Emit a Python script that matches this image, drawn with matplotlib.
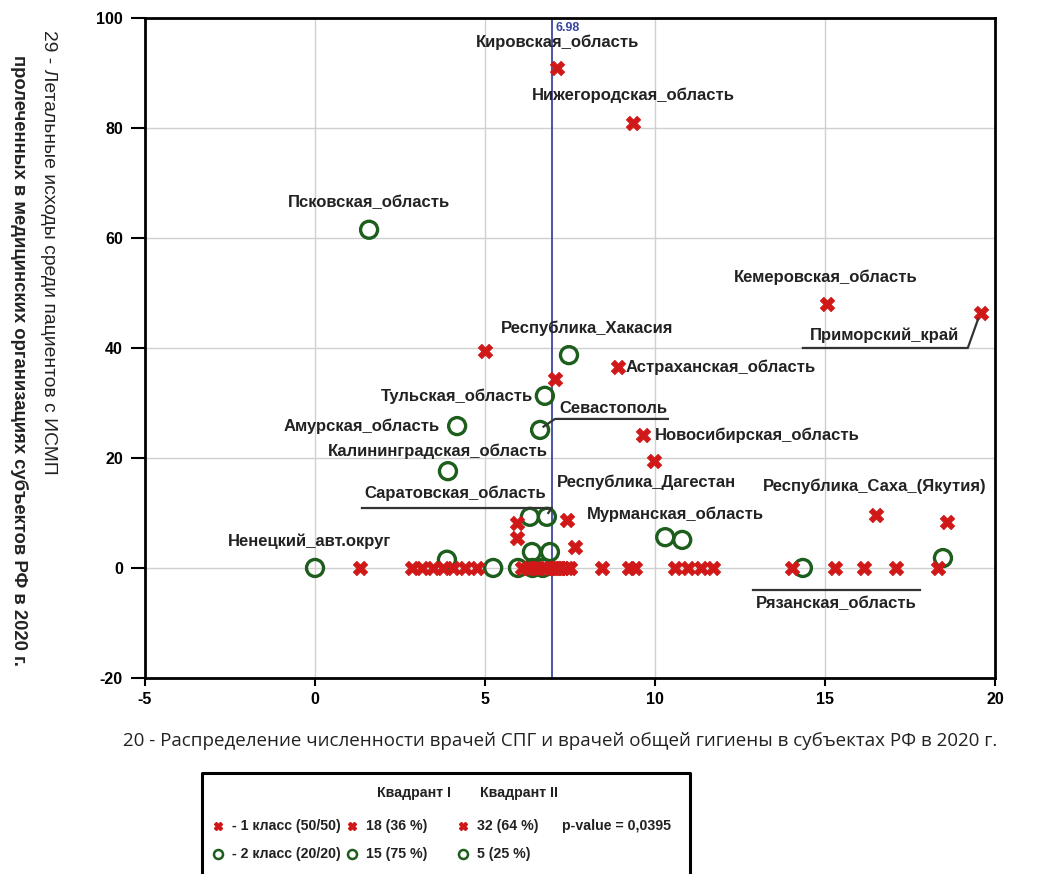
import numpy as np
import matplotlib.pyplot as plt

plt.rcParams["axes.unicode_minus"] = False

# class 1 (red crosses)
x1 = [7.12, 9.35, 15.06, 19.59, 5.0, 8.91, 7.05, 9.65, 9.97, 16.5, 18.6, 7.41, 7.65,
      5.94, 5.94,
      1.32, 2.85, 3.15, 3.47, 3.76, 4.06, 4.41, 4.76,
      6.1, 6.25, 6.4, 6.55, 6.7, 6.8, 6.9,
      7.0, 7.05, 7.1, 7.15, 7.2, 7.3, 7.4, 7.5,
      8.44, 9.24, 9.41, 10.6, 10.97, 11.35, 11.7, 14.03, 15.3, 16.15, 17.1, 18.32]
y1 = [90.9, 80.9, 48.0, 46.4, 39.5, 36.5, 34.4, 24.2, 19.5, 9.6, 8.4, 8.7, 3.8,
      8.2, 5.5,
      0, 0, 0, 0, 0, 0, 0, 0,
      0, 0, 0, 0, 0, 0, 0,
      0, 0, 0, 0, 0, 0, 0, 0,
      0, 0, 0, 0, 0, 0, 0, 0, 0, 0, 0, 0]

# class 2 (green circles)
x2 = [1.59, 7.47, 6.76, 6.62, 4.18, 3.91, 6.32, 6.82, 6.38, 6.91, 3.88, 0.0, 5.24, 5.97,
      10.3, 10.8, 14.35, 18.47, 6.4, 6.7]
y2 = [61.5, 38.7, 31.3, 25.1, 25.8, 17.6, 9.3, 9.3, 2.9, 2.9, 1.5, 0, 0, 0,
      5.6, 5.1, 0, 1.8, 0, 0]

threshold = 6.98

# labels: text, x, y, ha
labels = [
    ("Кировская_область", 7.12, 95.6, "center"),
    ("Нижегородская_область", 9.35, 86.0, "center"),
    ("Псковская_область", 1.59, 66.4, "center"),
    ("Кемеровская_область", 15.03, 52.9, "center"),
    ("Приморский_край", 16.75, 42.4, "center"),
    ("Республика_Хакасия", 8.0, 43.6, "center"),
    ("Астраханская_область", 9.12, 36.5, "left"),
    ("Тульская_область", 6.41, 31.2, "right"),
    ("Севастополь", 7.2, 29.0, "left"),
    ("Амурская_область", 3.68, 25.8, "right"),
    ("Новосибирская_область", 10.0, 24.2, "left"),
    ("Калининградская_область", 3.62, 21.2, "center"),
    ("Республика_Дагестан", 7.12, 15.6, "left"),
    ("Республика_Саха_(Якутия)", 16.47, 14.9, "center"),
    ("Мурманская_область", 8.0, 9.8, "left"),
    ("Ненецкий_авт.округ", -0.15, 4.9, "center"),
    ("Саратовская_область", 4.12, 13.5, "center"),
    ("Рязанская_область", 15.32, -6.4, "center"),
]

# leader lines (underline + connector)
leaders = [
    ([14.35, 19.2, 19.5], [40.0, 40.0, 45.2]),
    ([10.38, 7.06, 6.72], [27.1, 27.1, 25.7]),
    ([1.38, 6.97, 6.86], [10.9, 10.9, 10.0]),
    ([12.88, 17.79], [-4.0, -4.0]),
]

# legend table contents
legend_head = ["Квадрант I", "Квадрант II"]
legend_rows = [["- 1 класс (50/50)", "18 (36 %)", "32 (64 %)"],
               ["- 2 класс (20/20)", "15 (75 %)", "5 (25 %)"]]
p_value = "p-value = 0,0395"

sans = ["Liberation Sans", "DejaVu Sans"]
red = "#d01818"
green = "#1d5e1d"
txt = "#222222"

fig = plt.figure(figsize=(10.51, 8.74), dpi=100)
ax = fig.add_axes([0.138, 0.2243, 0.8087, 0.7551])

ax.scatter(x2, y2, s=150, facecolors="none", edgecolors=green, linewidths=2.4, zorder=3)
ax.scatter(x1, y1, s=110, marker="X", color=red, edgecolors=red, linewidths=0.5, zorder=4)
ax.axvline(threshold, color="#3a46a0", linewidth=1.3, zorder=2)
ax.text(threshold + 0.1, 98.2, f"{threshold:.2f}", color="#3a46a0", fontsize=9,
        fontweight="bold", family=sans, ha="left", va="center")

for t, lx, ly, ha in labels:
    ax.text(lx, ly, t, ha=ha, va="center", fontsize=12, fontweight="bold",
            family=sans, color=txt, zorder=5)
for lx, ly in leaders:
    ax.plot(lx, ly, color="#333333", linewidth=1.6, zorder=5)

ax.set_xlim(-5, 20)
ax.set_ylim(-20, 100)
ax.set_xticks(np.arange(-5, 21, 5))
ax.set_yticks(np.arange(-20, 101, 20))
ax.grid(True, color="#d0d0d0", linewidth=1.0)
ax.set_axisbelow(True)
for spine in ax.spines.values():
    spine.set_color("black")
    spine.set_linewidth(2.0)
ax.tick_params(direction="out", width=1.5, labelsize=11.5, colors="black")
ax.tick_params(axis="y", length=10, pad=6)
ax.tick_params(axis="x", length=6, pad=4)
for lab in ax.get_xticklabels() + ax.get_yticklabels():
    lab.set_family(sans)
    lab.set_fontweight("bold")

fig.text(48 / 1051, 1 - 30 / 874, "29 - Летальные исходы среди пациентов с ИСМП",
         rotation=270, ha="center", va="top", fontsize=13.9, family=sans, color=txt)
fig.text(19 / 1051, 1 - 55 / 874, "пролеченных в медицинских организациях субъектов РФ в 2020 г.",
         rotation=270, ha="center", va="top", fontsize=13.3, family=sans,
         fontweight="bold", color=txt)
fig.text(560 / 1051, 1 - 741 / 874,
         "20 - Распределение численности врачей СПГ и врачей общей гигиены в субъектах РФ в 2020 г.",
         ha="center", va="center", fontsize=13.5, family=["Open Sans", "DejaVu Sans"], color=txt)

# legend table
lg = fig.add_axes([0, 0, 1, 1], facecolor="none")
lg.set_xlim(0, 1051)
lg.set_ylim(874, 0)
lg.axis("off")
lg.plot([202, 202, 690, 690], [880, 773, 773, 880], color="black", linewidth=2.2)
lfont = dict(fontsize=10.2, fontweight="bold", family=sans, color=txt, va="center", ha="left")
lg.text(377, 793, legend_head[0], **lfont)
lg.text(480, 793, legend_head[1], **lfont)
cols = [218, 352, 463]
for r, (texts, yy) in enumerate(zip(legend_rows, [826, 854])):
    for cx, t in zip(cols, texts):
        if r == 0:
            lg.plot(cx, yy, marker="X", markersize=6, color=red, linestyle="none")
        else:
            lg.plot(cx, yy, marker="o", markersize=6.5, markerfacecolor="none",
                    markeredgecolor=green, markeredgewidth=1.8, linestyle="none")
        lg.text(cx + 14, yy, t, **lfont)
lg.text(562, 826, p_value, **lfont)

fig.savefig("out.png", dpi=100)
